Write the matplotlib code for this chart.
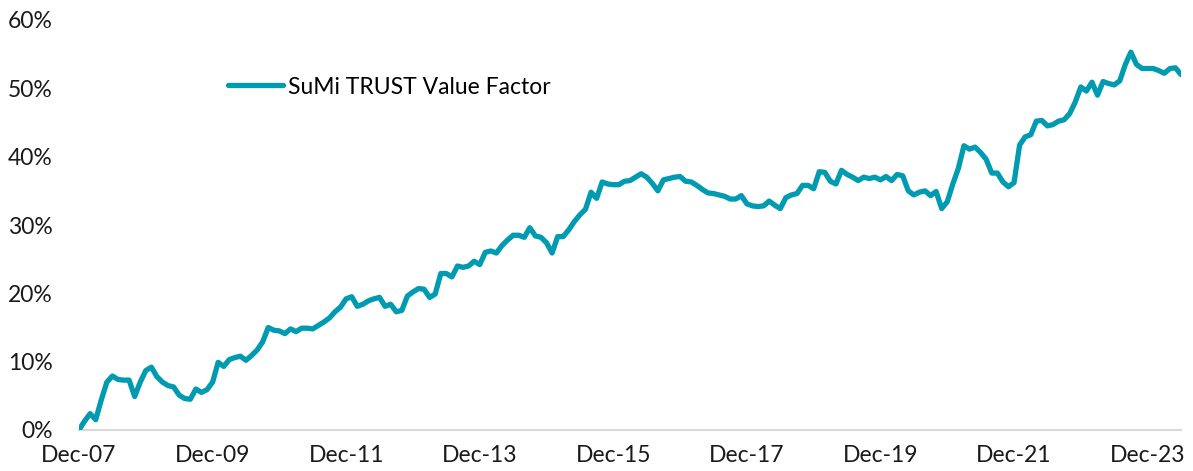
import matplotlib.pyplot as plt

# monthly cumulative return (%), Dec-07 .. Jun-24
values = [
    0.0, 1.3, 2.4, 1.5, 4.4, 7.0, 7.9, 7.4, 7.3, 7.3,
    4.9, 7.0, 8.7, 9.2, 7.8, 7.0, 6.5, 6.3, 5.1, 4.6,
    4.5, 6.0, 5.5, 5.9, 7.0, 9.9, 9.3, 10.3, 10.6, 10.8,
    10.2, 10.9, 11.7, 12.9, 15.0, 14.6, 14.5, 14.1, 14.8, 14.4,
    14.9, 14.9, 14.8, 15.3, 15.8, 16.4, 17.3, 18.0, 19.2, 19.5,
    18.1, 18.4, 18.9, 19.2, 19.4, 18.1, 18.4, 17.3, 17.5, 19.6,
    20.2, 20.7, 20.6, 19.4, 19.9, 22.9, 22.9, 22.4, 24.0, 23.8,
    24.0, 24.7, 24.2, 26.0, 26.2, 25.9, 27.0, 27.8, 28.5, 28.5,
    28.2, 29.6, 28.4, 28.2, 27.4, 25.9, 28.3, 28.3, 29.3, 30.5,
    31.5, 32.3, 34.8, 33.9, 36.3, 36.0, 35.9, 35.9, 36.4, 36.5,
    37.0, 37.5, 37.0, 36.1, 35.0, 36.6, 36.8, 37.0, 37.1, 36.4,
    36.3, 35.8, 35.2, 34.7, 34.6, 34.4, 34.2, 33.8, 33.8, 34.3,
    33.1, 32.8, 32.7, 32.8, 33.5, 32.9, 32.4, 34.0, 34.4, 34.6,
    35.8, 35.8, 35.3, 37.8, 37.7, 36.4, 36.0, 38.0, 37.4, 37.0,
    36.5, 37.0, 36.8, 37.0, 36.6, 37.1, 36.5, 37.4, 37.2, 35.0,
    34.4, 34.8, 35.0, 34.3, 34.9, 32.4, 33.4, 36.0, 38.3, 41.6,
    41.1, 41.4, 40.6, 39.6, 37.6, 37.6, 36.3, 35.6, 36.2, 41.7,
    42.9, 43.2, 45.2, 45.3, 44.5, 44.7, 45.2, 45.4, 46.3, 48.0,
    50.2, 49.6, 50.9, 49.0, 51.0, 50.7, 50.5, 51.1, 53.5, 55.3,
    53.5, 52.9, 52.9, 52.9, 52.6, 52.2, 52.9, 53.0, 52.0,
]
tick_labels = ['Dec-07', 'Dec-09', 'Dec-11', 'Dec-13', 'Dec-15',
               'Dec-17', 'Dec-19', 'Dec-21', 'Dec-23']
y_ticks = [0, 10, 20, 30, 40, 50, 60]
series_name = 'SuMi TRUST Value Factor'

color = '#009bb1'
plt.rcParams['font.family'] = ['Lato', 'DejaVu Sans']

fig = plt.figure(figsize=(11.93, 4.71), dpi=100)
ax = fig.add_axes([79 / 1193, 1 - 430 / 471, (1181 - 79) / 1193, 410 / 471])

months = list(range(len(values)))
ax.plot(months, values, color=color, lw=3.8,
        solid_capstyle='round', solid_joinstyle='round',
        label=series_name)

ax.set_xlim(0, len(values) - 1)
ax.set_ylim(0, 60)
ax.set_xticks(range(0, 24 * len(tick_labels), 24))
ax.set_xticklabels(tick_labels)
ax.set_yticks(y_ticks)
ax.set_yticklabels([f'{v}%' for v in y_ticks])
ax.tick_params(length=0, labelsize=16.5, colors='#1a1a1a')
ax.tick_params(axis='y', pad=19)
ax.tick_params(axis='x', pad=11)

for side in ['top', 'right', 'left']:
    ax.spines[side].set_visible(False)
ax.spines['bottom'].set_color('#d9d9d9')
ax.spines['bottom'].set_linewidth(1.5)
ax.spines['bottom'].set_zorder(0)

ax.legend(loc='center left', bbox_to_anchor=(228 / 1193, 1 - 87 / 471),
          bbox_transform=fig.transFigure, frameon=False, fontsize=16.5,
          borderpad=0, borderaxespad=0, handlelength=2.4, handletextpad=0.2)

fig.savefig('out.png', dpi=100)
